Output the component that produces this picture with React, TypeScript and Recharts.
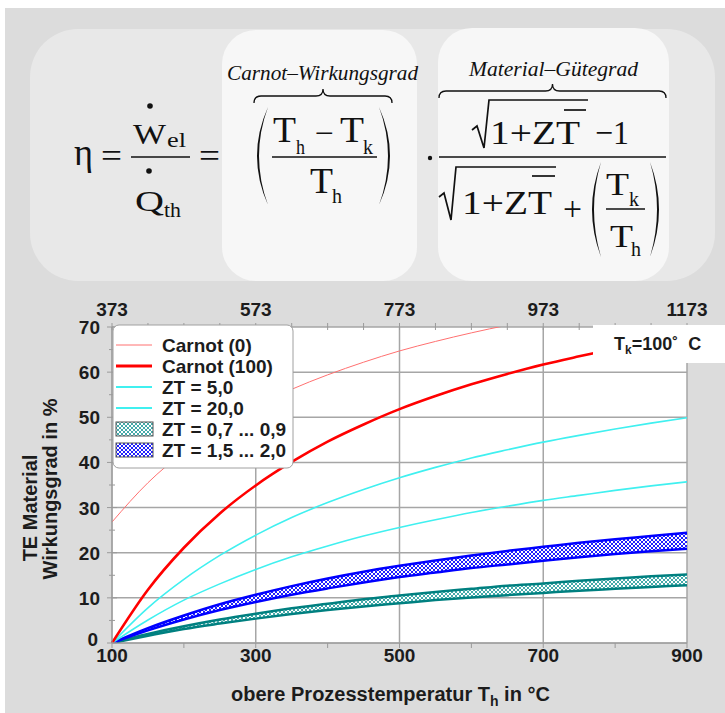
import React from "react";
import {
  ComposedChart,
  Line,
  Area,
  XAxis,
  YAxis,
  CartesianGrid,
} from "recharts";

// ---- data ----
const temps = [100, 150, 200, 250, 300, 350, 400, 450, 500, 550, 600, 650, 700, 750, 800, 850, 900];
const carnot0 = [26.8, 35.5, 42.3, 47.8, 52.4, 56.2, 59.4, 62.2, 64.7, 66.8, 68.7, 70.4, 71.9, null, null, null, null];
const carnot100 = [0, 11.8, 21.1, 28.7, 34.9, 40.1, 44.6, 48.4, 51.8, 54.7, 57.3, 59.6, 61.7, 63.5, 65.2, 66.8, 68.2];
const zt5 = [0, 5.1, 9.5, 13.1, 16.3, 19.1, 21.5, 23.7, 25.6, 27.3, 28.9, 30.3, 31.6, 32.7, 33.8, 34.8, 35.7];
const zt20 = [0, 7.8, 14.1, 19.4, 23.9, 27.8, 31.1, 34.0, 36.6, 38.9, 41.0, 42.8, 44.5, 46.0, 47.4, 48.7, 49.9];
const zt07 = [0, 1.6, 3.1, 4.3, 5.4, 6.4, 7.3, 8.1, 8.8, 9.5, 10.1, 10.6, 11.1, 11.6, 12.0, 12.4, 12.8];
const zt09 = [0, 2.0, 3.7, 5.2, 6.5, 7.7, 8.7, 9.7, 10.5, 11.3, 12.0, 12.7, 13.2, 13.8, 14.3, 14.8, 15.2];
const zt15 = [0, 2.8, 5.2, 7.3, 9.1, 10.7, 12.1, 13.4, 14.6, 15.6, 16.6, 17.4, 18.2, 19.0, 19.7, 20.3, 20.9];
const zt2 = [0, 3.3, 6.1, 8.6, 10.7, 12.6, 14.3, 15.8, 17.1, 18.3, 19.4, 20.4, 21.3, 22.2, 23.0, 23.7, 24.4];

const xTicks = [100, 200, 300, 400, 500, 600, 700, 800, 900];
const xTopTicks = [100, 150, 200, 250, 300, 350, 400, 450, 500, 550, 600, 650, 700, 750, 800, 850, 900];
const xLabeled = [100, 300, 500, 700, 900];
const yTicks = [0, 5, 10, 15, 20, 25, 30, 35, 40, 45, 50, 55, 60, 65, 70];
const yGrid = [0, 10, 20, 30, 40, 50, 60, 70];
const xGrid = [100, 300, 500, 700, 900];
const kelvinOffset = 273;

const legendItems = [
  { label: "Carnot (0)", kind: "line", color: "#ff7070", w: 1 },
  { label: "Carnot (100)", kind: "line", color: "#ff0000", w: 3 },
  { label: "ZT = 5,0", kind: "line", color: "#40f0f0", w: 2 },
  { label: "ZT = 20,0", kind: "line", color: "#40f0f0", w: 2 },
  { label: "ZT = 0,7 ... 0,9", kind: "band", color: "#008080", pat: "lgTeal" },
  { label: "ZT = 1,5 ... 2,0", kind: "band", color: "#0000ff", pat: "lgBlue" },
];

const data = temps.map((t, i) => ({
  t,
  c0: carnot0[i],
  c100: carnot100[i],
  z5: zt5[i],
  z20: zt20[i],
  bandLow: [zt07[i], zt09[i]],
  bandHigh: [zt15[i], zt2[i]],
}));

const SANS = "'Liberation Sans', Arial, sans-serif";
const SERIF = "'Liberation Serif', 'Times New Roman', serif";
const TXT = "#1c1c1c";
const AXIS = "#9a9a9a";

const YTick = (props: any) => {
  const { x, y, payload } = props;
  const v = payload.value;
  const major = v % 10 === 0;
  return (
    <g>
      <line x1={x - (major ? 5 : 3)} x2={x + (major ? 5 : 3)} y1={y} y2={y} stroke={AXIS} strokeWidth={1} />
      {major && (
        <text x={x - (v === 0 ? 14 : 12)} y={y} dy={v === 0 ? 3 : 7} textAnchor="end" fontFamily={SANS} fontWeight="bold" fontSize={19} fill={TXT}>
          {v}
        </text>
      )}
    </g>
  );
};

const XTick = (props: any) => {
  const { x, y, payload } = props;
  const v = payload.value;
  const lab = xLabeled.includes(v);
  return (
    <g>
      <line x1={x} x2={x} y1={y} y2={y + 5} stroke={AXIS} strokeWidth={1} />
      {lab && (
        <text x={x} y={y} dy={19} textAnchor="middle" fontFamily={SANS} fontWeight="bold" fontSize={19} fill={TXT}>
          {v}
        </text>
      )}
    </g>
  );
};

const XTopTick = (props: any) => {
  const { x, y, payload } = props;
  const v = payload.value;
  const lab = xLabeled.includes(v);
  return (
    <g>
      <line x1={x} x2={x} y1={y - 4} y2={y + 3} stroke={AXIS} strokeWidth={1} />
      {lab && (
        <text x={x} y={y} dy={-11} textAnchor="middle" fontFamily={SANS} fontWeight="bold" fontSize={19} fill={TXT}>
          {v + kelvinOffset}
        </text>
      )}
    </g>
  );
};

const brace = (x1: number, x2: number, y: number, h: number) => {
  const m = (x1 + x2) / 2;
  return `M ${x1} ${y + h} Q ${x1} ${y} ${x1 + h} ${y} L ${m - h} ${y} Q ${m} ${y} ${m} ${y - h} Q ${m} ${y} ${m + h} ${y} L ${x2 - h} ${y} Q ${x2} ${y} ${x2} ${y + h}`;
};
const lparen = (x: number, y1: number, y2: number, d: number) =>
  `M ${x} ${y1} Q ${x - d} ${(y1 + y2) / 2} ${x} ${y2} Q ${x - d + 4} ${(y1 + y2) / 2} ${x} ${y1} Z`;
const rparen = (x: number, y1: number, y2: number, d: number) =>
  `M ${x} ${y1} Q ${x + d} ${(y1 + y2) / 2} ${x} ${y2} Q ${x + d - 4} ${(y1 + y2) / 2} ${x} ${y1} Z`;

const Formula = () => (
  <svg width={725} height={290} style={{ position: "absolute", left: 0, top: 0 }}>
    <rect x={30} y={29} width={685} height={252} rx={48} fill="#e8e8e8" />
    <rect x={222} y={30} width={195} height={251} rx={34} fill="#f7f7f7" />
    <rect x={438} y={28} width={231} height={253} rx={34} fill="#f7f7f7" />
    <g fill="#111" fontFamily={SERIF}>
      <text x={74} y={165} fontSize={38} textLength={19} lengthAdjust="spacingAndGlyphs">η</text>
      <text x={101} y={167} fontSize={34} textLength={21} lengthAdjust="spacingAndGlyphs">=</text>
      <circle cx={150} cy={106} r={2.8} />
      <text x={133} y={144} fontSize={29} textLength={33} lengthAdjust="spacingAndGlyphs">W</text>
      <text x={167} y={147} fontSize={21} textLength={19} lengthAdjust="spacingAndGlyphs">el</text>
      <line x1={131} x2={190} y1={157} y2={157} stroke="#111" strokeWidth={1.7} />
      <circle cx={149} cy={171} r={2.8} />
      <text x={135} y={211} fontSize={29} textLength={29} lengthAdjust="spacingAndGlyphs">Q</text>
      <text x={164} y={217} fontSize={21} textLength={17} lengthAdjust="spacingAndGlyphs">th</text>
      <text x={199} y={167} fontSize={34} textLength={21} lengthAdjust="spacingAndGlyphs">=</text>

      <text x={227} y={80} fontSize={21} fontStyle="italic" textLength={191} lengthAdjust="spacingAndGlyphs">Carnot–Wirkungsgrad</text>
      <path d={brace(254, 392, 96, 7)} fill="none" stroke="#111" strokeWidth={1.3} />
      <path d={lparen(268, 107, 205, 22)} />
      <path d={rparen(379, 107, 205, 22)} />
      <text x={273} y={142} fontSize={35} textLength={23} lengthAdjust="spacingAndGlyphs">T</text>
      <text x={296} y={154} fontSize={21} textLength={9} lengthAdjust="spacingAndGlyphs">h</text>
      <text x={315} y={143} fontSize={30} textLength={19} lengthAdjust="spacingAndGlyphs">−</text>
      <text x={340} y={142} fontSize={35} textLength={24} lengthAdjust="spacingAndGlyphs">T</text>
      <text x={363} y={154} fontSize={21} textLength={10} lengthAdjust="spacingAndGlyphs">k</text>
      <line x1={272} x2={377} y1={157} y2={157} stroke="#111" strokeWidth={1.7} />
      <text x={310} y={193} fontSize={35} textLength={23} lengthAdjust="spacingAndGlyphs">T</text>
      <text x={332} y={203} fontSize={21} textLength={10} lengthAdjust="spacingAndGlyphs">h</text>

      <circle cx={430} cy={158} r={2.2} />

      <text x={469} y={76} fontSize={21} fontStyle="italic" textLength={169} lengthAdjust="spacingAndGlyphs">Material–Gütegrad</text>
      <path d={brace(439, 666, 91, 7)} fill="none" stroke="#111" strokeWidth={1.3} />
      <path d="M 472 130 L 477 126 L 484 148 L 489 100 L 588 100" fill="none" stroke="#111" strokeWidth={1.7} />
      <text x={490} y={144} fontSize={34} textLength={90} lengthAdjust="spacingAndGlyphs">1+ZT</text>
      <line x1={564} x2={586} y1={110} y2={110} stroke="#111" strokeWidth={1.7} />
      <text x={595} y={144} fontSize={34} textLength={34} lengthAdjust="spacingAndGlyphs">−1</text>
      <line x1={439} x2={666} y1={157} y2={157} stroke="#111" strokeWidth={1.7} />
      <path d="M 439 197 L 444 193 L 451 220 L 456 167 L 556 167" fill="none" stroke="#111" strokeWidth={1.7} />
      <text x={462} y={214} fontSize={34} textLength={90} lengthAdjust="spacingAndGlyphs">1+ZT</text>
      <line x1={532} x2={555} y1={176} y2={176} stroke="#111" strokeWidth={1.7} />
      <text x={563} y={220} fontSize={34} textLength={19} lengthAdjust="spacingAndGlyphs">+</text>
      <path d={lparen(601, 162, 257, 18)} />
      <path d={rparen(650, 162, 257, 18)} />
      <text x={606} y={195} fontSize={32} textLength={23} lengthAdjust="spacingAndGlyphs">T</text>
      <text x={629} y={206} fontSize={21} textLength={10} lengthAdjust="spacingAndGlyphs">k</text>
      <line x1={606} x2={645} y1={209} y2={209} stroke="#111" strokeWidth={1.5} />
      <text x={610} y={247} fontSize={32} textLength={23} lengthAdjust="spacingAndGlyphs">T</text>
      <text x={631} y={256} fontSize={21} textLength={10} lengthAdjust="spacingAndGlyphs">h</text>
    </g>
  </svg>
);

const Patterns = ({ blue, teal }: { blue: string; teal: string }) => (
  <defs>
    <pattern id={blue} width={4} height={4} patternUnits="userSpaceOnUse">
      <rect width={4} height={4} fill="#ffffff" />
      <path d="M0,0 L4,4 M4,0 L0,4" stroke="#2020ff" strokeWidth={1} />
    </pattern>
    <pattern id={teal} width={4} height={4} patternUnits="userSpaceOnUse">
      <rect width={4} height={4} fill="#ffffff" />
      <path d="M0,0 L4,4 M4,0 L0,4" stroke="#30a0a0" strokeWidth={0.9} />
    </pattern>
  </defs>
);

const Overlay = () => (
  <svg width={725} height={713} style={{ position: "absolute", left: 0, top: 0, pointerEvents: "none" }}>
    <Patterns blue="lgBlue" teal="lgTeal" />
    {/* Legend */}
    <rect x={113} y={325} width={180} height={143} rx={6} fill="#ffffff" stroke="#a0a0a0" strokeWidth={1} />
    {legendItems.map((it, i) => {
      const cy = 345 + i * 21;
      return (
        <g key={it.label}>
          {it.kind === "line" ? (
            <line x1={116} x2={152} y1={cy} y2={cy} stroke={it.color} strokeWidth={it.w} />
          ) : (
            <rect x={116} y={cy - 7} width={37} height={14} fill={`url(#${it.pat})`} stroke="#555" strokeWidth={1} />
          )}
          <text x={162} y={cy + 7} fontFamily={SANS} fontWeight="bold" fontSize={19} fill={TXT}>
            {it.label}
          </text>
        </g>
      );
    })}
    {/* Tk box */}
    <rect x={593} y={325} width={132} height={38} fill="#ffffff" />
    <text x={614} y={350} fontFamily={SANS} fontWeight="bold" fontSize={18} fill={TXT}>
      <tspan>T</tspan>
      <tspan dy={4} fontSize={12}>k</tspan>
      <tspan dy={-4}>{"=100˚\u00a0\u00a0C"}</tspan>
    </text>
    {/* Axis titles */}
    <text x={231} y={701} fontFamily={SANS} fontWeight="bold" fontSize={20} fill={TXT}>
      <tspan>obere Prozesstemperatur T</tspan>
      <tspan dy={5} fontSize={14}>h</tspan>
      <tspan dy={-5}> in °C</tspan>
    </text>
    <text
      transform="translate(37 508) rotate(-90)"
      textAnchor="middle"
      fontFamily={SANS}
      fontWeight="bold"
      fontSize={20}
      fill={TXT}
    >
      TE Material
    </text>
    <text
      transform="translate(57 489) rotate(-90)"
      textAnchor="middle"
      fontFamily={SANS}
      fontWeight="bold"
      fontSize={20}
      fill={TXT}
    >
      Wirkungsgrad in %
    </text>
  </svg>
);

export default function App() {
  return (
    <div style={{ position: "absolute", left: 0, top: 0, width: 725, height: 713, background: "#ffffff", overflow: "hidden" }}>
      <div style={{ position: "absolute", left: 5, top: 8, right: 0, bottom: 0, background: "#dcdcdc" }} />
      <Formula />
      <div style={{ position: "absolute", left: 0, top: 0 }}>
        <ComposedChart width={725} height={713} data={data} margin={{ top: 297, right: 38, bottom: 30, left: 52 }}>
          <Patterns blue="hatchBlue" teal="hatchTeal" />
          <CartesianGrid
            xAxisId="bottom"
            yAxisId="y"
            fill="#ffffff"
            stroke="#a6a6a6"
            strokeWidth={1.5}
            horizontalValues={yGrid}
            verticalValues={xGrid}
          />
          <XAxis
            xAxisId="bottom"
            dataKey="t"
            type="number"
            domain={[100, 900]}
            ticks={xTicks}
            height={40}
            tickSize={0}
            tickMargin={0}
            tick={<XTick />}
            axisLine={{ stroke: AXIS }}
            tickLine={false}
            interval={0}
          />
          <XAxis
            xAxisId="top"
            orientation="top"
            dataKey="t"
            type="number"
            domain={[100, 900]}
            ticks={xTopTicks}
            height={30}
            tickSize={0}
            tickMargin={0}
            tick={<XTopTick />}
            axisLine={false}
            tickLine={false}
            interval={0}
          />
          <YAxis
            yAxisId="y"
            type="number"
            domain={[0, 70]}
            ticks={yTicks}
            width={60}
            tickSize={0}
            tickMargin={0}
            tick={<YTick />}
            axisLine={{ stroke: AXIS }}
            tickLine={false}
            interval={0}
            allowDataOverflow
          />
          <Area
            xAxisId="bottom"
            yAxisId="y"
            dataKey="bandLow"
            type="monotone"
            stroke="#008080"
            strokeWidth={2.5}
            fill="url(#hatchTeal)"
            fillOpacity={1}
            dot={false}
            activeDot={false}
            isAnimationActive={false}
          />
          <Area
            xAxisId="bottom"
            yAxisId="y"
            dataKey="bandHigh"
            type="monotone"
            stroke="#0000ff"
            strokeWidth={2.5}
            fill="url(#hatchBlue)"
            fillOpacity={1}
            dot={false}
            activeDot={false}
            isAnimationActive={false}
          />
          <Line xAxisId="bottom" yAxisId="y" dataKey="z5" type="monotone" stroke="#40f0f0" strokeWidth={1.6} dot={false} activeDot={false} isAnimationActive={false} />
          <Line xAxisId="bottom" yAxisId="y" dataKey="z20" type="monotone" stroke="#40f0f0" strokeWidth={1.6} dot={false} activeDot={false} isAnimationActive={false} />
          <Line xAxisId="bottom" yAxisId="y" dataKey="c0" type="monotone" stroke="#ff7070" strokeWidth={1} dot={false} activeDot={false} isAnimationActive={false} />
          <Line xAxisId="bottom" yAxisId="y" dataKey="c100" type="monotone" stroke="#ff0000" strokeWidth={2.6} dot={false} activeDot={false} isAnimationActive={false} />
        </ComposedChart>
      </div>
      <Overlay />
    </div>
  );
}
